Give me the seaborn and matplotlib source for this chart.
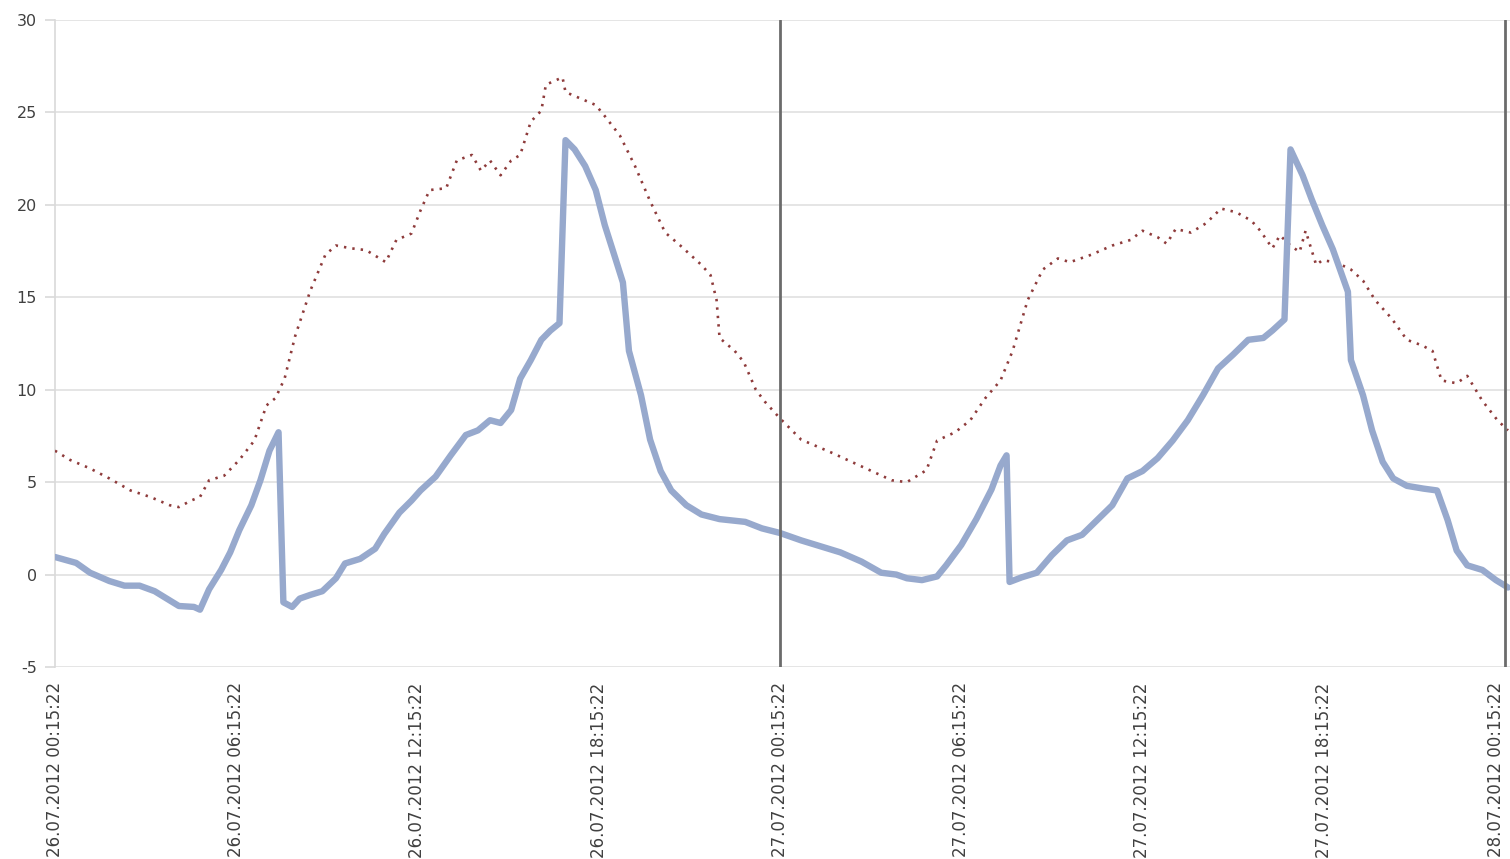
import numpy as np
import pandas as pd
import matplotlib
matplotlib.use("Agg")
import matplotlib.pyplot as plt
import matplotlib.dates as mdates
import seaborn as sns

# Hours since 26.07.2012 00:15:22 and readings of the solid (blue) series
blue_hours = [0.0, 0.7, 1.16, 1.8, 2.3, 2.8, 3.3, 3.8, 4.1, 4.6, 4.8, 5.1, 5.5, 5.8, 6.1,
              6.5, 6.8, 7.1, 7.4, 7.56, 7.85, 8.1, 8.45, 8.85, 9.3, 9.6, 10.1, 10.6, 10.9,
              11.4, 11.8, 12.1, 12.6, 13.1, 13.6, 14.0, 14.4, 14.75, 15.1, 15.4, 15.75,
              16.1, 16.4, 16.7, 16.9, 17.2, 17.55, 17.9, 18.2, 18.55, 18.8, 19.0, 19.4,
              19.7, 20.05, 20.4, 20.9, 21.4, 22.0, 22.85, 23.4, 24.0, 24.7, 25.4, 26.0,
              26.7, 27.35, 27.85, 28.2, 28.7, 29.2, 29.5, 30.0, 30.5, 31.0, 31.3, 31.5,
              31.6, 32.0, 32.5, 33.0, 33.5, 34.0, 34.5, 35.0, 35.5, 36.0, 36.5, 37.0,
              37.5, 38.0, 38.5, 39.0, 39.5, 40.0, 40.3, 40.7, 40.9, 41.3, 41.6, 41.95,
              42.3, 42.8, 42.9, 43.3, 43.6, 43.95, 44.3, 44.75, 45.3, 45.75, 46.1, 46.4,
              46.75, 47.25, 47.7, 48.1]
blue_values = [0.95, 0.63, 0.1, -0.35, -0.6, -0.6, -0.9, -1.4, -1.7, -1.75, -1.9, -0.8,
               0.25, 1.2, 2.4, 3.75, 5.1, 6.7, 7.7, -1.5, -1.75, -1.3, -1.1, -0.9, -0.2,
               0.6, 0.85, 1.4, 2.2, 3.35, 4.0, 4.55, 5.3, 6.45, 7.55, 7.8, 8.35, 8.2, 8.9,
               10.6, 11.6, 12.7, 13.2, 13.6, 23.5, 23.0, 22.1, 20.8, 18.9, 17.1, 15.8,
               12.1, 9.7, 7.3, 5.6, 4.55, 3.75, 3.25, 3.0, 2.85, 2.5, 2.25, 1.85, 1.5,
               1.2, 0.7, 0.1, 0.0, -0.2, -0.3, -0.1, 0.5, 1.6, 3.0, 4.6, 5.9, 6.45, -0.4,
               -0.15, 0.1, 1.05, 1.85, 2.15, 2.95, 3.75, 5.2, 5.6, 6.3, 7.25, 8.35, 9.7,
               11.15, 11.9, 12.7, 12.8, 13.2, 13.8, 23.0, 21.6, 20.3, 18.9, 17.6, 15.3,
               11.6, 9.7, 7.8, 6.1, 5.2, 4.8, 4.65, 4.55, 2.95, 1.3, 0.5, 0.25, -0.3,
               -0.7]

# Hours since start and readings of the dotted (red) series
red_hours = [0.0, 0.5, 1.15, 1.8, 2.5, 3.15, 3.8, 4.1, 4.5, 4.8, 5.1, 5.6, 6.1, 6.6, 7.0,
             7.3, 7.6, 7.95, 8.45, 8.95, 9.3, 9.8, 10.3, 10.95, 11.3, 11.8, 12.1, 12.4,
             12.95, 13.3, 13.8, 14.1, 14.4, 14.75, 15.1, 15.4, 15.75, 16.1, 16.25, 16.8,
             16.9, 17.4, 17.9, 18.2, 18.7, 19.2, 19.7, 20.2, 20.7, 21.4, 21.7, 21.9, 22.0,
             22.5, 22.8, 23.2, 23.5, 24.0, 24.7, 25.7, 26.7, 27.7, 28.2, 28.85, 29.2,
             29.8, 30.3, 30.8, 31.3, 31.7, 32.2, 32.7, 33.2, 33.6, 34.3, 35.0, 35.6, 36.0,
             36.5, 36.8, 37.1, 37.6, 38.1, 38.6, 39.1, 39.6, 39.9, 40.3, 40.55, 40.9,
             41.2, 41.4, 41.75, 41.95, 42.4, 42.9, 43.3, 43.7, 44.25, 44.75, 45.25, 45.6,
             45.9, 46.4, 46.75, 47.25, 47.75, 48.1]
red_values = [6.7, 6.2, 5.75, 5.2, 4.55, 4.2, 3.75, 3.65, 4.0, 4.2, 5.1, 5.35, 6.2, 7.25,
              9.15, 9.55, 10.6, 12.9, 15.35, 17.3, 17.8, 17.65, 17.55, 16.9, 18.1, 18.45,
              19.7, 20.8, 20.9, 22.4, 22.7, 21.85, 22.4, 21.6, 22.4, 22.7, 24.5, 25.1,
              26.5, 26.9, 26.1, 25.75, 25.4, 24.8, 23.75, 22.1, 20.2, 18.5, 17.8, 16.75,
              16.2, 14.85, 12.8, 12.1, 11.5, 10.0, 9.35, 8.45, 7.3, 6.6, 5.85, 5.1, 5.0,
              5.65, 7.25, 7.7, 8.35, 9.55, 10.5, 12.1, 14.85, 16.5, 17.1, 16.9, 17.3,
              17.8, 18.1, 18.6, 18.25, 17.9, 18.7, 18.5, 19.0, 19.8, 19.6, 19.15, 18.6,
              17.65, 18.35, 17.8, 17.45, 18.6, 16.75, 17.0, 16.9, 16.5, 15.9, 14.85,
              13.85, 12.7, 12.4, 12.1, 10.5, 10.35, 10.75, 9.4, 8.35, 7.8]

y_ticks = [-5, 0, 5, 10, 15, 20, 25, 30]
tick_step_hours = 6
day_marks_hours = [24, 48]

start = pd.Timestamp("2012-07-26 00:15:22")

blue = pd.DataFrame({"time": start + pd.to_timedelta(blue_hours, unit="h"),
                     "value": blue_values})
red = pd.DataFrame({"time": start + pd.to_timedelta(red_hours, unit="h"),
                    "value": red_values})

sns.set_style("white")
plt.rcParams["font.family"] = ["DejaVu Sans"]
plt.rcParams["axes.unicode_minus"] = False

fig = plt.figure(figsize=(15.10, 8.59), dpi=100)
ax = fig.add_axes([55 / 1510, 1 - 667 / 859, (1510 - 55) / 1510, (667 - 20) / 859])

sns.lineplot(data=red, x="time", y="value", ax=ax, color="#8e3b3b",
             linewidth=1.9, linestyle=(0, (0.9, 2.3)), zorder=3)
sns.lineplot(data=blue, x="time", y="value", ax=ax, color="#97a9cd",
             linewidth=4.6, solid_joinstyle="round", zorder=4)

ax.set_ylim(y_ticks[0], y_ticks[-1])
ax.set_yticks(y_ticks)
ax.yaxis.grid(True, color="#dedede", linewidth=1.1)
ax.xaxis.grid(False)

ax.set_xlim(start, start + pd.Timedelta(hours=48 + 5 / 30.2))
xticks = [start + pd.Timedelta(hours=h) for h in range(0, 49, tick_step_hours)]
ax.set_xticks(xticks)
ax.xaxis.set_major_formatter(mdates.DateFormatter("%d.%m.%Y %H:%M:%S"))

for h in day_marks_hours:
    ax.axvline(start + pd.Timedelta(hours=h), color="#6b6b6b", linewidth=2.0, zorder=5)

for side in ["top", "right", "bottom"]:
    ax.spines[side].set_visible(False)
ax.spines["left"].set_color("#d9d9d9")
ax.spines["left"].set_linewidth(1.2)

ax.tick_params(axis="y", labelsize=11.5, colors="#d9d9d9", labelcolor="#404040",
               length=7, width=1.2, pad=6, left=True)
ax.tick_params(axis="x", labelsize=12, labelcolor="#404040", length=0, pad=11,
               labelrotation=90)
ax.set_xlabel("")
ax.set_ylabel("")

# keep the last date label inside the figure's right edge
fig.canvas.draw()
ax.get_xticklabels()[-1].set_horizontalalignment("right")

fig.savefig("out.png", dpi=100)
